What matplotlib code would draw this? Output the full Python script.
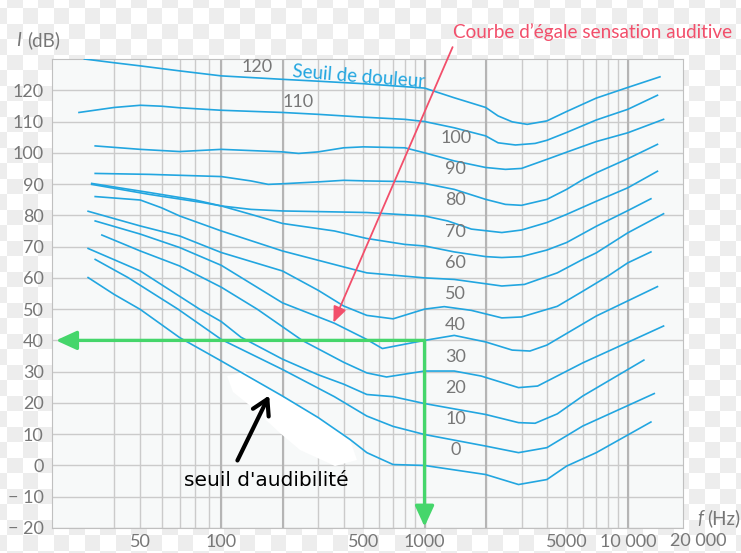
import numpy as np
import matplotlib.pyplot as plt
from matplotlib.patches import Polygon

plt.rcParams['font.family'] = ['Lato', 'DejaVu Sans']

# isophonic curves: frequency (Hz) and level (dB)
f_120 = [31, 40, 50, 70, 100, 200, 300, 500, 1000, 1400, 2000, 2300, 2700, 3200, 4000, 5000, 7000, 10000, 14400]
l_120 = [130.0, 128.8, 127.8, 126.2, 124.6, 123.5, 122.9, 122.1, 120.7, 117.6, 114.5, 111.8, 109.9, 109.1, 110.2, 113.2, 117.5, 120.9, 124.3]
f_110 = [29.6, 40, 50, 60, 70, 100, 200, 300, 500, 800, 1000, 1400, 2000, 2300, 2800, 3500, 4000, 5000, 7000, 10000, 14000]
l_110 = [112.9, 114.5, 115.2, 114.9, 114.4, 113.6, 112.9, 112.3, 111.4, 110.7, 110.0, 108.0, 105.4, 103.2, 102.5, 103.0, 104.0, 106.5, 110.5, 113.9, 118.4]
f_100 = [34, 50, 70, 100, 200, 240, 300, 400, 500, 800, 1000, 1400, 2000, 2500, 3000, 4000, 5000, 7000, 10000, 15000]
l_100 = [102.2, 101.1, 100.4, 101.1, 100.3, 99.8, 100.3, 101.6, 101.9, 101.6, 100.0, 97.4, 95.3, 94.7, 95.0, 97.9, 100.2, 103.6, 106.4, 110.7]
f_90 = [34, 54, 100, 140, 170, 200, 300, 400, 520, 800, 1000, 1400, 2000, 2500, 3000, 4000, 5000, 6000, 7000, 10000, 14000]
l_90 = [93.4, 93.1, 92.4, 91.0, 89.9, 90.1, 90.7, 91.2, 91.0, 90.8, 90.2, 88.3, 85.1, 83.5, 83.2, 85.1, 88.3, 91.4, 93.6, 98.1, 102.7]
f_80 = [33, 54, 80, 100, 140, 200, 360, 520, 1000, 1300, 1700, 2400, 3000, 4000, 5000, 7000, 10000, 14000]
l_80 = [90.2, 87.3, 84.9, 83.0, 81.9, 81.4, 81.1, 80.9, 79.8, 78.2, 75.6, 74.5, 75.3, 77.7, 80.3, 84.5, 88.8, 94.1]
f_70 = [33, 54, 85, 100, 140, 200, 360, 520, 800, 1000, 1400, 2000, 2400, 3000, 4000, 5000, 7000, 10000, 13000]
l_70 = [89.9, 86.7, 84.1, 83.0, 80.3, 77.4, 75.0, 72.6, 70.7, 70.2, 68.3, 66.8, 66.5, 66.8, 68.9, 71.3, 76.5, 81.5, 85.3]
f_60 = [34, 50, 60, 70, 100, 200, 400, 520, 1000, 1400, 2400, 3100, 4500, 6000, 7000, 10000, 15000]
l_60 = [86.0, 84.9, 82.4, 79.8, 75.0, 68.6, 63.5, 61.6, 60.0, 59.5, 57.4, 57.9, 61.6, 65.9, 68.0, 74.4, 80.5]
f_50 = [32, 50, 70, 100, 200, 300, 400, 520, 700, 1000, 1250, 1700, 2400, 3000, 4500, 6000, 8000, 10000, 13000]
l_50 = [81.3, 76.6, 73.4, 68.1, 62.2, 56.0, 51.0, 48.0, 46.9, 50.0, 50.8, 49.6, 47.2, 47.5, 50.9, 55.7, 60.6, 64.8, 68.3]
f_40 = [34, 50, 70, 100, 200, 360, 520, 620, 1000, 1400, 2000, 2700, 3300, 4000, 7000, 14000]
l_40 = [78.2, 74.0, 69.7, 64.0, 52.0, 45.5, 40.3, 37.4, 40.0, 41.6, 39.5, 36.9, 36.6, 38.5, 47.8, 57.2]
f_30 = [36, 50, 70, 100, 150, 250, 400, 520, 650, 1000, 1400, 1900, 2900, 3600, 6000, 15000]
l_30 = [73.7, 68.6, 63.8, 57.0, 50.0, 40.0, 33.0, 29.6, 28.3, 30.2, 30.2, 28.6, 24.9, 25.4, 32.8, 44.6]
f_20 = [32, 50, 83, 100, 125, 200, 300, 400, 520, 700, 1000, 2000, 2900, 3500, 4500, 6000, 12000]
l_20 = [69.4, 62.2, 50.0, 46.0, 41.0, 34.0, 29.0, 26.0, 22.7, 22.0, 19.8, 16.3, 13.7, 13.5, 16.5, 22.2, 33.7]
f_10 = [34, 45, 69, 100, 200, 360, 520, 700, 1000, 2000, 2900, 4000, 6000, 13500]
l_10 = [65.9, 60.1, 50.0, 40.3, 30.7, 22.0, 15.8, 12.5, 9.9, 6.2, 4.1, 5.7, 12.6, 23.0]
f_0 = [32, 40, 50, 70, 100, 200, 300, 430, 520, 700, 1000, 2000, 2900, 4000, 5000, 7000, 13000]
l_0 = [60.1, 54.7, 49.9, 40.9, 33.4, 22.2, 15.3, 8.3, 4.1, 0.3, 0.0, -2.9, -6.1, -4.5, -0.2, 4.1, 13.9]

curves = [(f_120, l_120), (f_110, l_110), (f_100, l_100), (f_90, l_90), (f_80, l_80),
          (f_70, l_70), (f_60, l_60), (f_50, l_50), (f_40, l_40), (f_30, l_30),
          (f_20, l_20), (f_10, l_10), (f_0, l_0)]
phons = [100, 90, 80, 70, 60, 50, 40, 30, 20, 10, 0]

x_ticks = [50, 100, 500, 1000, 5000, 10000]
x_labels = ['50', '100', '500', '1000', '5000', '10 000']
grid_f = [40, 50, 60, 70, 80, 90, 100, 200, 300, 400, 500, 600, 700, 800, 900,
          1000, 2000, 3000, 4000, 5000, 6000, 7000, 8000, 9000, 10000]
strong_f = [100, 200, 1000, 2000, 10000]
y_ticks = list(range(-20, 121, 10))


# the drawing stretches the decade below 100 Hz
def fwd(f):
    lf = np.log10(np.clip(np.asarray(f, float), 1e-3, None)) - 2
    return np.where(lf >= 0, lf, lf * 1.325)


def inv(p):
    p = np.asarray(p, float)
    return np.where(p >= 0, 10 ** (2 + p), 10 ** (2 + p / 1.325))


W, H = 741, 553
fig = plt.figure(figsize=(W / 100, H / 100), dpi=100)

# transparent-background checkerboard
yy, xx = np.indices((H, W))
chk = ((((xx - 7) // 15.5) + ((yy - 8) // 15.5)) % 2).astype(bool)
bg = np.ones((H, W, 3))
bg[chk] = 0.93
fig.figimage(bg, 0, 0, zorder=-1)
fig.patch.set_alpha(0)

ax = fig.add_axes([52 / W, 25 / H, 631 / W, 469 / H])
ax.set_facecolor('#f7f9f9')
ax.set_xscale('function', functions=(fwd, inv))
ax.set_xlim(23.5, 18700)
ax.set_ylim(-20, 130)

grey = '#777777'
ax.set_xticks(x_ticks)
ax.set_xticklabels(x_labels)
ax.set_xticks(grid_f, minor=True)
ax.set_yticks(y_ticks)
ax.set_yticklabels([str(v) if v >= 0 else '\u2212 ' + str(-v) for v in y_ticks])
ax.tick_params(which='both', length=0, labelsize=13, colors=grey)
ax.tick_params(axis='x', pad=4)
ax.tick_params(axis='y', pad=6)
ax.grid(True, which='both', color='#cbcbcb', lw=1)
for f in strong_f:
    ax.axvline(f, color='#b5b5b5', lw=1.5, zorder=0.6)
ax.set_axisbelow(True)
for s in ax.spines.values():
    s.set_color('#c0c0c0')

# white brush patch under the threshold curve
blob = [(227, 376), (245, 372), (281, 396), (318, 417), (350, 440), (357, 460),
        (335, 466), (300, 450), (280, 433), (253, 408), (233, 392)]
ax.add_patch(Polygon([(x / W, 1 - y / H) for x, y in blob], closed=True,
                     transform=fig.transFigure, facecolor='white', edgecolor='none', zorder=1))

blue = '#22a6e0'
for f, l in curves:
    ax.plot(f, l, color=blue, lw=1.2, zorder=3)

# curve labels
ax.text(150, 127.4, '120', color=grey, fontsize=13, ha='center', va='center')
ax.text(239, 116.2, '110', color=grey, fontsize=13, ha='center', va='center')
for p in phons:
    ax.text(1422, p + 4.8, str(p), color=grey, fontsize=13, ha='center', va='center')
fig.text(292 / W, 1 - 72 / H, 'Seuil de douleur', color=blue, fontsize=13.5,
         rotation=-4.5, rotation_mode='anchor', ha='left', va='center')

# 40 dB at 1000 Hz reading
green = '#45d66b'
arw = dict(arrowstyle='-|>,head_length=0.7,head_width=0.32', color=green, lw=2.4,
           shrinkA=0, shrinkB=0, mutation_scale=18)
ax.annotate('', xy=(24.3, 40), xytext=(1000, 40), arrowprops=arw, zorder=4)
ax.annotate('', xy=(1000, -19.6), xytext=(1000, 40), arrowprops=arw, zorder=4)

# red arrow to an isophonic curve
ax.annotate('', xy=(356, 45.7), xytext=(1374, 133.8), annotation_clip=False,
            arrowprops=dict(arrowstyle='-|>,head_length=0.6,head_width=0.25', color='#f24f6b',
                            lw=1.3, shrinkA=0, shrinkB=0, mutation_scale=16))
fig.text(453 / W, 1 - 32 / H, 'Courbe d\u2019\u00e9gale sensation auditive', color='#f24f6b',
         fontsize=13.6, ha='left', va='center')

# threshold of hearing
ax.annotate('', xy=(172, 22.4), xytext=(120, 1.6),
            arrowprops=dict(arrowstyle='->,head_length=0.6,head_width=0.35', color='black',
                            lw=3, shrinkA=0, shrinkB=0, mutation_scale=18), zorder=5)
fig.text(266 / W, 1 - 480 / H, "seuil d'audibilit\u00e9", color='black',
         fontsize=14.5, ha='center', va='center', family='DejaVu Sans')

# axis titles
fig.text(16 / W, 1 - 40 / H, 'I', style='italic', color=grey, fontsize=13.5, va='center')
fig.text(27 / W, 1 - 40 / H, '(dB)', color=grey, fontsize=13.5, va='center')
fig.text(697 / W, 1 - 518 / H, 'f', style='italic', color=grey, fontsize=13.5, va='center')
fig.text(707 / W, 1 - 518 / H, '(Hz)', color=grey, fontsize=13.5, va='center')
fig.text(698 / W, 1 - 541 / H, '20 000', color=grey, fontsize=13, ha='center', va='center')

fig.savefig('out.png', dpi=100)
